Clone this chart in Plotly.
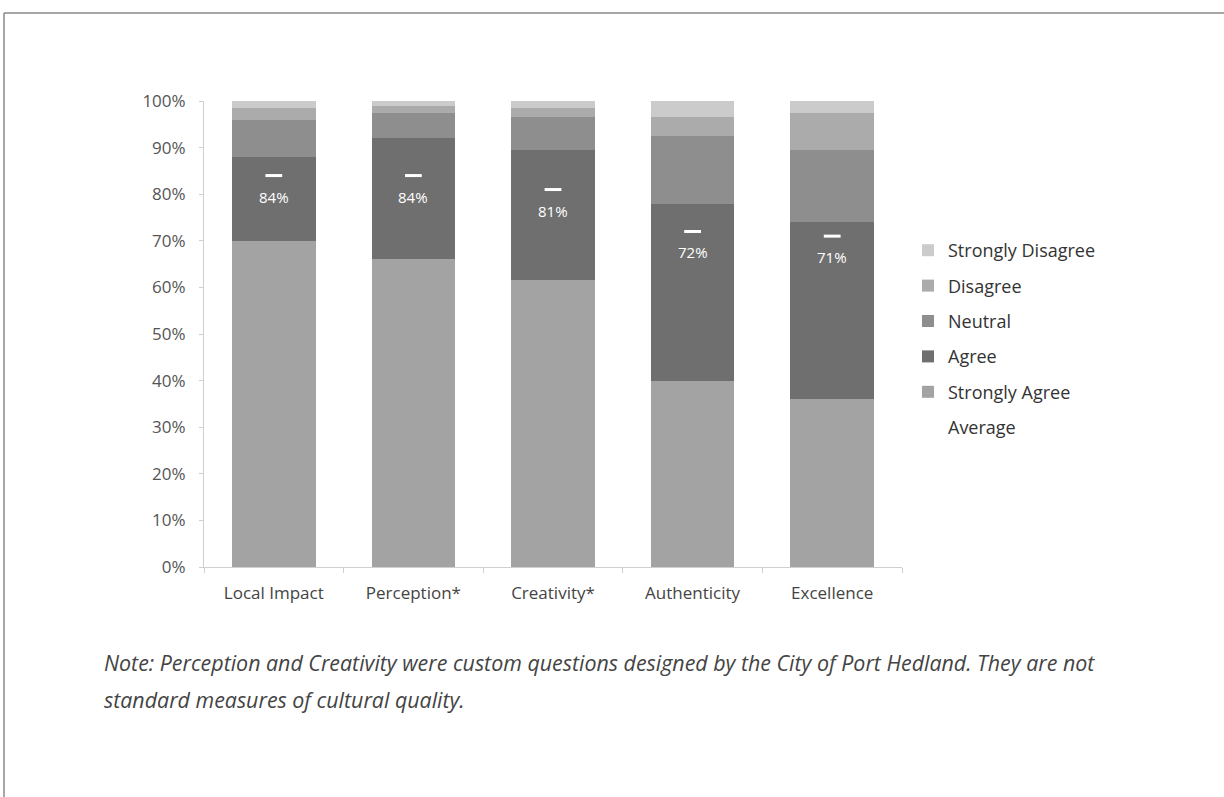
import plotly.graph_objects as go

categories = ["Local Impact", "Perception*", "Creativity*", "Authenticity", "Excellence"]
strongly_agree = [70, 66, 61.5, 40, 36]
agree = [18, 26, 28, 38, 38]
neutral = [8, 5.5, 7, 14.5, 15.5]
disagree = [2.5, 1.5, 2, 4, 8]
strongly_disagree = [1.5, 1, 1.5, 3.5, 2.5]
average = [84, 84, 81, 72, 71]
average_labels = ["84%", "84%", "81%", "72%", "71%"]

series = [
    ("Strongly Agree", strongly_agree, "#a3a3a3", 5),
    ("Agree", agree, "#6f6f6f", 4),
    ("Neutral", neutral, "#8e8e8e", 3),
    ("Disagree", disagree, "#ababab", 2),
    ("Strongly Disagree", strongly_disagree, "#cbcbcb", 1),
]

FONT = "Open Sans"
fig = go.Figure()
for name, vals, color, rank in series:
    fig.add_trace(go.Bar(
        x=categories, y=vals, name=name, marker=dict(color=color, line=dict(width=0)),
        width=0.6, legendrank=rank, legendgroup=name, hoverinfo="skip",
    ))

fig.add_trace(go.Scatter(
    x=categories, y=average, name="Average", mode="markers",
    marker=dict(symbol="line-ew", size=12, color="white", line=dict(color="white", width=3)),
    legendrank=6, legendgroup="Average", hoverinfo="skip",
))

L, R, T, B = 204, 322, 101, 230
PW, PH = 1224 - L - R, 797 - T - B

def px_x(px):
    return (px - L) / PW

def px_y(py):
    return (797 - B - py) / PH

annotations = [
    dict(x=c, y=v, xref="x", yref="y", text=t, showarrow=False, yshift=-21,
         font=dict(color="white", size=15, family=FONT))
    for c, v, t in zip(categories, average, average_labels)
]
annotations += [
    dict(xref="paper", yref="paper", x=px_x(102), y=px_y(662), xanchor="left", yanchor="middle",
         showarrow=False,
         text="<i>Note: Perception and Creativity were custom questions designed by the City of Port Hedland. They are not</i>",
         font=dict(size=21.4, color="#444444", family=FONT)),
    dict(xref="paper", yref="paper", x=px_x(102), y=px_y(699), xanchor="left", yanchor="middle",
         showarrow=False,
         text="<i>standard measures of cultural quality.</i>",
         font=dict(size=21.4, color="#444444", family=FONT)),
]

fig.update_layout(
    width=1224, height=797,
    margin=dict(l=L, r=R, t=T, b=B),
    paper_bgcolor="white", plot_bgcolor="white",
    barmode="stack", bargap=0.4,
    font=dict(family=FONT, color="#444444"),
    showlegend=True,
    legend=dict(
        x=px_x(908), y=px_y(232), xanchor="left", yanchor="top",
        traceorder="grouped", tracegroupgap=9,
        font=dict(size=18, color="#333333", family=FONT),
        itemwidth=30,
    ),
    xaxis=dict(
        showline=True, linecolor="#cfcfcf", linewidth=1,
        ticks="outside", tickson="boundaries", ticklen=5, tickcolor="#cfcfcf",
        tickfont=dict(size=17, color="#444444", family=FONT),
        ticklabelstandoff=11,
        showgrid=False, zeroline=False,
    ),
    yaxis=dict(
        range=[0, 100], dtick=10, ticksuffix="%",
        showline=True, linecolor="#cfcfcf", linewidth=1,
        ticks="outside", ticklen=4, tickcolor="#cfcfcf",
        tickfont=dict(size=17, color="#555555", family=FONT),
        ticklabelstandoff=10,
        showgrid=False, zeroline=False,
    ),
    shapes=[
        dict(type="line", xref="paper", yref="paper", x0=px_x(4), x1=px_x(1224),
             y0=px_y(13), y1=px_y(13), line=dict(color="#8a8a8a", width=1.5)),
        dict(type="line", xref="paper", yref="paper", x0=px_x(4), x1=px_x(4),
             y0=px_y(13), y1=px_y(797), line=dict(color="#8a8a8a", width=1.5)),
    ],
    annotations=annotations,
)

fig.write_html("out.html")
